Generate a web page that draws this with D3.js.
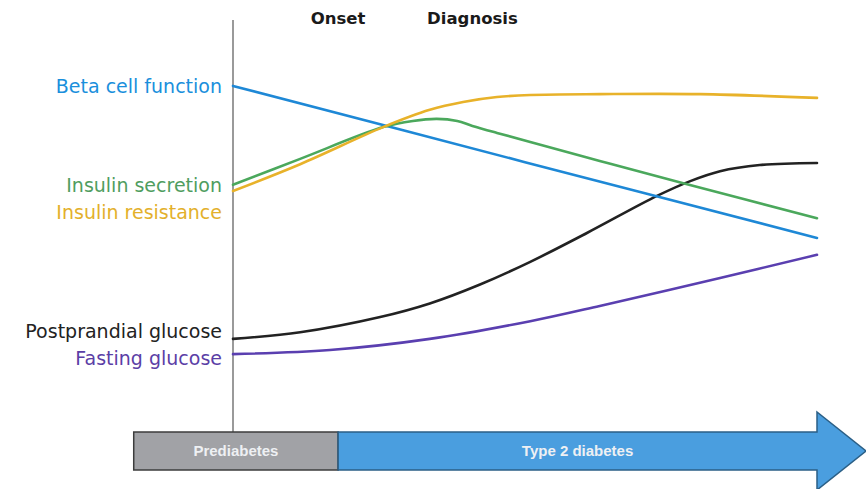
<!DOCTYPE html>
<html>
<head>
<meta charset="utf-8">
<script src="https://cdn.jsdelivr.net/npm/d3@7"></script>
<style>
  html, body { margin: 0; padding: 0; background: #fff; }
  svg { display: block; }
</style>
</head>
<body>
<svg id="chart" width="866" height="489"></svg>
<script>
// Natural history of type 2 diabetes: relative levels (0–100) over time (0–100)
const time = {
  beta:         [0, 50, 100],
  secretion:    [0, 11.5, 25.7, 30.8, 34.9, 38.4, 41, 45.2, 50.9, 62.8, 77.1, 100],
  resistance:   [0, 11.5, 25.7, 33.7, 39.4, 45.2, 50.9, 62.8, 80, 100],
  postprandial: [0, 11.5, 25.2, 33.7, 42.3, 50.9, 60.6, 72.6, 78.3, 83.4, 90.2, 100],
  fasting:      [0, 16.6, 33.7, 50.9, 62.8, 83.4, 100]
};
const betaCellFunction   = [84.0, 65.5, 47.1];
const insulinSecretion   = [60.0, 66.3, 74.0, 75.5, 76.0, 75.5, 74.3, 72.6, 70.4, 65.8, 60.4, 51.9];
const insulinResistance  = [58.5, 65.0, 74.0, 78.2, 80.1, 81.3, 81.8, 82.0, 82.0, 81.1];
const postprandialGlucose = [22.6, 24.2, 27.9, 31.2, 35.8, 41.3, 48.3, 57.3, 60.9, 63.3, 64.8, 65.3];
const fastingGlucose     = [18.9, 19.9, 22.6, 26.9, 30.6, 37.4, 43.0];

const seriesNames = ["Beta cell function", "Insulin secretion", "Insulin resistance", "Postprandial glucose", "Fasting glucose"];
const seriesKeys  = ["beta", "secretion", "resistance", "postprandial", "fasting"];
const seriesValues = [betaCellFunction, insulinSecretion, insulinResistance, postprandialGlucose, fastingGlucose];

const eventNames = ["Onset", "Diagnosis"];
const eventTimes = [18, 41];

const phaseNames  = ["Prediabetes", "Type 2 diabetes"];
const phaseStarts = [-17, 18];
const phaseEnds   = [18, 100];

// Styling
const lineColors  = ["#1e88d6", "#4ba85c", "#e8b22a", "#222222", "#5a3fb0"];
const labelColors = ["#1a8fdc", "#4f9d60", "#e3b02b", "#222222", "#5b3ea6"];
const labelShift  = [0, 1, 21, -8, 4];   // vertical nudge of each series label (px)

const svg = d3.select("#chart");
const x = d3.scaleLinear().domain([0, 100]).range([233, 817]);
const y = d3.scaleLinear().domain([0, 100]).range([432, 20]);

// Vertical time-zero axis
svg.append("line")
  .attr("x1", x(0)).attr("x2", x(0))
  .attr("y1", y(100)).attr("y2", y(0))
  .attr("stroke", "#9a9a9a").attr("stroke-width", 2);

// Series curves
const line = d3.line()
  .x(d => x(d[0])).y(d => y(d[1]))
  .curve(d3.curveCatmullRom.alpha(0.5));

const drawOrder = [4, 3, 0, 1, 2];
drawOrder.forEach(i => {
  const pts = time[seriesKeys[i]].map((t, j) => [t, seriesValues[i][j]]);
  svg.append("path")
    .attr("d", line(pts))
    .attr("fill", "none")
    .attr("stroke", lineColors[i])
    .attr("stroke-width", 2.6)
    .attr("stroke-linecap", "round");
});

// Series labels to the left of the axis
seriesNames.forEach((name, i) => {
  svg.append("text")
    .attr("x", x(0) - 11)
    .attr("y", y(seriesValues[i][0]) + labelShift[i])
    .attr("dy", "0.35em")
    .attr("text-anchor", "end")
    .attr("font-family", "'DejaVu Sans', sans-serif")
    .attr("font-size", 19)
    .attr("fill", labelColors[i])
    .text(name);
});

// Event markers along the top
eventNames.forEach((name, i) => {
  svg.append("text")
    .attr("x", x(eventTimes[i]))
    .attr("y", 24)
    .attr("text-anchor", "middle")
    .attr("font-family", "'DejaVu Sans', sans-serif")
    .attr("font-weight", "bold")
    .attr("font-size", 16.5)
    .attr("fill", "#1a1a1a")
    .text(name);
});

// Phase bar: grey block then blue arrow
const barTop = 432, barBot = 470, barMid = (barTop + barBot) / 2;
svg.append("rect")
  .attr("x", x(phaseStarts[0])).attr("y", barTop)
  .attr("width", x(phaseEnds[0]) - x(phaseStarts[0]))
  .attr("height", barBot - barTop)
  .attr("fill", "#a1a2a6").attr("stroke", "#3c3c3c").attr("stroke-width", 1.5);

const headHalf = 39, tipX = 866;
const arrow = d3.path();
arrow.moveTo(x(phaseStarts[1]), barTop);
arrow.lineTo(x(phaseEnds[1]), barTop);
arrow.lineTo(x(phaseEnds[1]), barMid - headHalf);
arrow.lineTo(tipX, barMid);
arrow.lineTo(x(phaseEnds[1]), barMid + headHalf);
arrow.lineTo(x(phaseEnds[1]), barBot);
arrow.lineTo(x(phaseStarts[1]), barBot);
arrow.closePath();
svg.append("path")
  .attr("d", arrow.toString())
  .attr("fill", "#4a9edf").attr("stroke", "#2b5f86").attr("stroke-width", 1.5);

phaseNames.forEach((name, i) => {
  svg.append("text")
    .attr("x", x((phaseStarts[i] + phaseEnds[i]) / 2))
    .attr("y", barMid)
    .attr("dy", "0.35em")
    .attr("text-anchor", "middle")
    .attr("font-family", "'Liberation Sans', Arial, sans-serif")
    .attr("font-weight", "bold")
    .attr("font-size", 15)
    .attr("fill", "#eef0f3")
    .text(name);
});
</script>
</body>
</html>
